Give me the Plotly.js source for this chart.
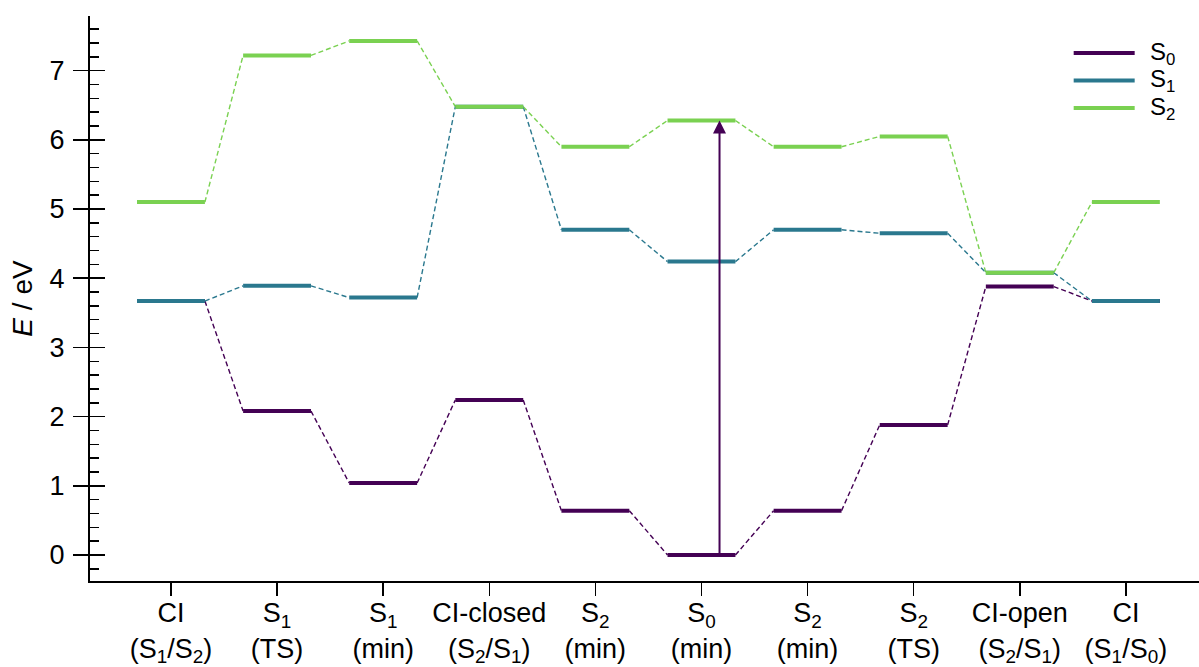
<!DOCTYPE html>
<html>
<head>
<meta charset="utf-8">
<script src="https://cdn.plot.ly/plotly-3.0.1.min.js"></script>
<style>html,body{margin:0;padding:0;background:#fff;}</style>
</head>
<body>
<div id="chart" style="width:1199px;height:667px;"></div>
<script>
// Geometries along the reaction path (x-axis categories)
const states = [
  'CI<br>(S<sub>1</sub>/S<sub>2</sub>)',
  'S<sub>1</sub><br>(TS)',
  'S<sub>1</sub><br>(min)',
  'CI-closed<br>(S<sub>2</sub>/S<sub>1</sub>)',
  'S<sub>2</sub><br>(min)',
  'S<sub>0</sub><br>(min)',
  'S<sub>2</sub><br>(min)',
  'S<sub>2</sub><br>(TS)',
  'CI-open<br>(S<sub>2</sub>/S<sub>1</sub>)',
  'CI<br>(S<sub>1</sub>/S<sub>0</sub>)'
];

// State energies in eV at each geometry
const energyS0 = [3.67, 2.08, 1.04, 2.24, 0.64, 0.00, 0.64, 1.88, 3.88, 3.67];
const energyS1 = [3.67, 3.89, 3.72, 6.48, 4.70, 4.24, 4.70, 4.65, 4.08, 3.67];
const energyS2 = [5.10, 7.22, 7.43, 6.48, 5.90, 6.28, 5.90, 6.05, 4.08, 5.10];

const seriesNames = ['S<sub>0</sub>', 'S<sub>1</sub>', 'S<sub>2</sub>'];
const seriesColors = ['#440154', '#2a788e', '#7ad151'];

const FONT = 'Liberation Sans, Arial, Helvetica, sans-serif';
const HALF = 0.32;          // half-width of a level bar, in category units
const ARROW_SHIFT = 0.17;   // vertical excitation arrow sits slightly right of centre

function levelTrace(vals, color) {
  const x = [], y = [];
  vals.forEach((v, i) => { x.push(i - HALF, i + HALF, null); y.push(v, v, null); });
  return { x, y, type: 'scatter', mode: 'lines', line: { color, width: 4 },
           hoverinfo: 'skip', showlegend: false, cliponaxis: false };
}

function linkTrace(vals, color) {
  const x = [], y = [];
  for (let i = 0; i < vals.length - 1; i++) {
    x.push(i + HALF, i + 1 - HALF, null);
    y.push(vals[i], vals[i + 1], null);
  }
  return { x, y, type: 'scatter', mode: 'lines',
           line: { color, width: 1.4, dash: '5px,3px' },
           hoverinfo: 'skip', showlegend: false };
}

const series = [energyS0, energyS1, energyS2];
const traces = [];
series.forEach((vals, k) => traces.push(linkTrace(vals, seriesColors[k])));
series.forEach((vals, k) => traces.push(levelTrace(vals, seriesColors[k])));
// carrier for the inward major ticks
traces.push({ x: [], y: [], yaxis: 'y2', type: 'scatter', showlegend: false, hoverinfo: 'skip' });

const yRange = [-0.376, 7.79];
const xRange = [-0.763, 9.689];

// legend drawn as short line samples with labels
const legendX0 = 0.887, legendX1 = 0.942, legendTextX = 0.955;
const legendY = [0.9345, 0.886, 0.837];
const shapes = seriesNames.map((n, k) => ({
  type: 'line', xref: 'paper', yref: 'paper',
  x0: legendX0, x1: legendX1, y0: legendY[k], y1: legendY[k],
  line: { color: seriesColors[k], width: 4 }
}));
const annotations = seriesNames.map((n, k) => ({
  xref: 'paper', yref: 'paper', x: legendTextX, y: legendY[k],
  xanchor: 'left', yanchor: 'middle', showarrow: false, text: n,
  borderpad: 0,
  font: { family: FONT, size: 24, color: '#000' }
}));

// vertical excitation S0 -> S2 at the S0 minimum
const s0min = states.findIndex(s => s.startsWith('S<sub>0</sub>'));
annotations.push({
  x: s0min + ARROW_SHIFT, y: energyS2[s0min],
  ax: s0min + ARROW_SHIFT, ay: energyS0[s0min],
  xref: 'x', yref: 'y', axref: 'x', ayref: 'y',
  showarrow: true, text: '', arrowhead: 2, arrowsize: 1.3, arrowwidth: 2,
  arrowcolor: seriesColors[0], standoff: 0, startstandoff: 0
});

const layout = {
  width: 1199, height: 667,
  margin: { l: 90, r: 0, t: 16, b: 86 },
  paper_bgcolor: '#fff', plot_bgcolor: '#fff',
  showlegend: false,
  font: { family: FONT, color: '#000' },
  xaxis: {
    range: xRange, tickmode: 'array',
    tickvals: states.map((s, i) => i), ticktext: states,
    ticks: 'outside', ticklen: 13, tickwidth: 1.5, tickcolor: '#000',
    showline: true, linewidth: 2, linecolor: '#000',
    showgrid: false, zeroline: false,
    tickfont: { family: FONT, size: 27, color: '#000' },
    ticklabelstandoff: -6
  },
  yaxis: {
    range: yRange, tick0: 0, dtick: 1,
    ticks: 'outside', ticklen: 15, tickwidth: 1.5, tickcolor: '#000',
    minor: { ticks: 'inside', ticklen: 9, tickwidth: 1.5, tickcolor: '#000', tick0: 0, dtick: 0.2 },
    showline: true, linewidth: 2, linecolor: '#000',
    showgrid: false, zeroline: false,
    tickfont: { family: FONT, size: 27, color: '#000' },
    ticklabelstandoff: 3,
    title: { text: '<i>E</i> / eV', font: { family: FONT, size: 28, color: '#000' }, standoff: 9 }
  },
  yaxis2: {
    overlaying: 'y', side: 'left', anchor: 'x',
    range: yRange, tick0: 0, dtick: 1,
    ticks: 'inside', ticklen: 15, tickwidth: 1.5, tickcolor: '#000',
    showticklabels: false, showline: false, showgrid: false, zeroline: false
  },
  shapes, annotations
};

Plotly.newPlot('chart', traces, layout, { displayModeBar: false, staticPlot: true });
</script>
</body>
</html>
